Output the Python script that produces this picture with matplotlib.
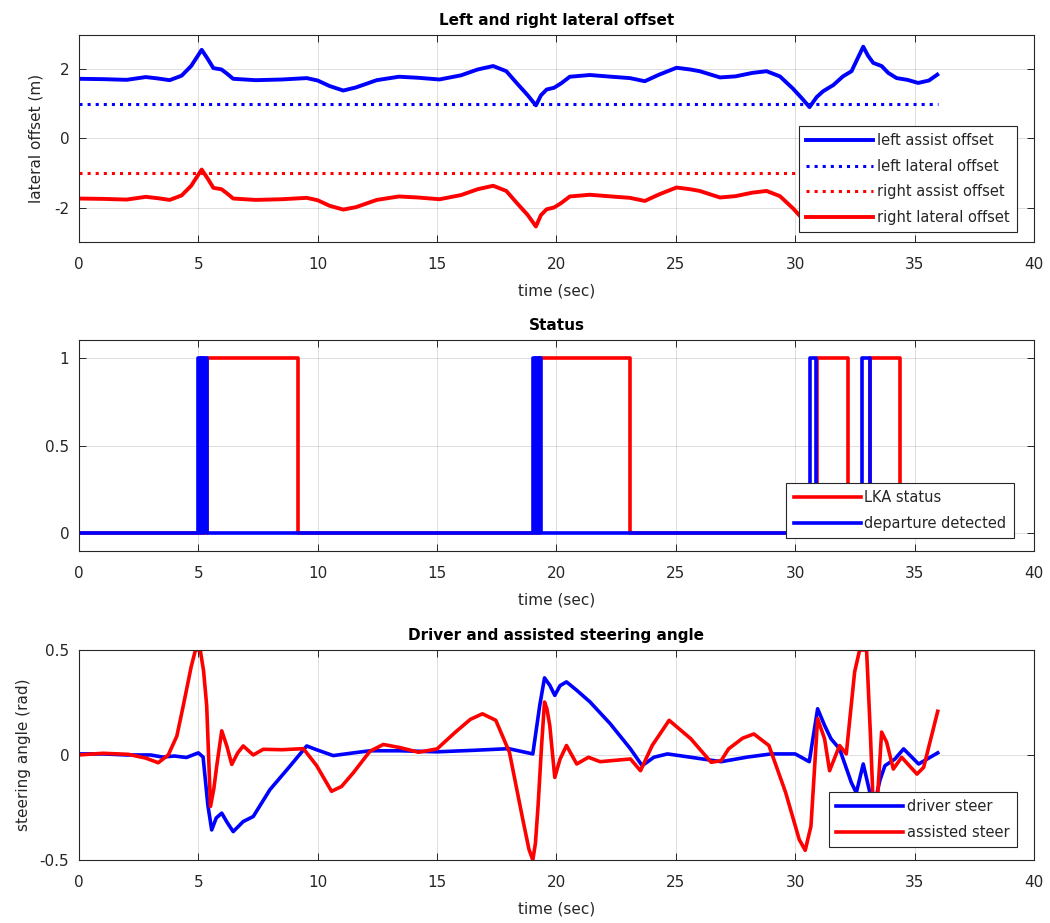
import matplotlib
matplotlib.use('Agg')
import matplotlib.pyplot as plt

plt.rcParams['font.family'] = ['DejaVu Sans']
plt.rcParams['axes.unicode_minus'] = False

# ---- Left and right lateral offset ----
t_off = [0, 1.0, 2.0, 2.8, 3.3, 3.8, 4.3, 4.7, 5.14, 5.4, 5.63, 5.97, 6.2, 6.46, 7.4,
         8.5, 9.54, 10.0, 10.5, 11.07, 11.6, 12.47, 13.4, 14.2, 15.1, 16.0, 16.7, 17.35,
         17.9, 18.33, 18.8, 19.14, 19.35, 19.59, 19.9, 20.2, 20.56, 21.4, 22.3, 23.08,
         23.7, 24.3, 25.03, 25.6, 26.0, 26.85, 27.5, 28.2, 28.8, 29.36, 29.9, 30.3, 30.6,
         30.9, 31.17, 31.6, 32.0, 32.36, 32.6, 32.85, 33.05, 33.27, 33.62, 33.9, 34.25,
         34.7, 35.15, 35.6, 35.95]
left_assist = [1.73, 1.72, 1.70, 1.78, 1.74, 1.69, 1.82, 2.10, 2.57, 2.30, 2.04, 2.00,
               1.88, 1.73, 1.69, 1.71, 1.75, 1.68, 1.52, 1.39, 1.48, 1.69, 1.79, 1.76,
               1.71, 1.83, 2.00, 2.10, 1.95, 1.61, 1.25, 0.96, 1.25, 1.42, 1.47, 1.60,
               1.79, 1.84, 1.79, 1.75, 1.66, 1.85, 2.05, 2.00, 1.95, 1.77, 1.80, 1.90,
               1.95, 1.80, 1.45, 1.15, 0.91, 1.20, 1.37, 1.55, 1.80, 1.95, 2.30, 2.66,
               2.40, 2.19, 2.10, 1.90, 1.75, 1.70, 1.61, 1.68, 1.85]
right_lateral = [-1.74, -1.75, -1.77, -1.69, -1.73, -1.78, -1.65, -1.37, -0.90, -1.17,
                 -1.43, -1.47, -1.59, -1.74, -1.78, -1.76, -1.72, -1.79, -1.95, -2.06,
                 -1.99, -1.78, -1.68, -1.71, -1.76, -1.64, -1.47, -1.37, -1.52, -1.86,
                 -2.22, -2.55, -2.22, -2.05, -2.00, -1.87, -1.68, -1.63, -1.68, -1.72,
                 -1.81, -1.62, -1.42, -1.47, -1.52, -1.71, -1.67, -1.57, -1.52, -1.67,
                 -2.02, -2.32, -2.60, -2.27, -2.10, -1.92, -1.67, -1.52, -1.17, -0.81,
                 -1.07, -1.28, -1.37, -1.57, -1.72, -1.77, -1.86, -1.79, -1.62]
t_line = [0, 36]
left_lateral = [1.0, 1.0]
right_assist = [-1.0, -1.0]

# ---- Status (switch times in sec) ----
lka_on = [5.35, 19.32, 30.92, 33.14]
lka_off = [9.19, 23.08, 32.22, 34.39]
dep_on = [5.00, 5.12, 5.24, 19.03, 19.15, 19.26, 30.62, 32.78]
dep_off = [5.08, 5.20, 5.37, 19.11, 19.22, 19.34, 30.88, 33.13]
t_end = 36

# ---- Driver and assisted steering angle ----
t_assist = [0, 1.0, 2.07, 2.8, 3.32, 3.74, 4.1, 4.37, 4.7, 4.88, 5.08, 5.22, 5.35, 5.51,
            5.65, 5.77, 5.98, 6.2, 6.4, 6.65, 6.88, 7.3, 7.72, 8.5, 9.4, 9.95, 10.58,
            11.0, 11.49, 12.19, 12.75, 13.45, 14.23, 15.0, 15.77, 16.4, 16.9, 17.46,
            18.03, 18.59, 18.85, 19.01, 19.12, 19.23, 19.38, 19.5, 19.6, 19.72, 19.93,
            20.15, 20.42, 20.85, 21.34, 21.83, 23.1, 23.52, 24.01, 24.72, 25.63, 26.48,
            26.9, 27.21, 27.8, 28.27, 28.9, 29.6, 30.17, 30.42, 30.66, 30.94, 31.23,
            31.44, 31.86, 32.14, 32.49, 32.7, 32.99, 33.15, 33.3, 33.45, 33.62, 33.83,
            34.11, 34.46, 35.1, 35.38, 35.97]
assisted_steer = [0, 0.008, 0.003, -0.015, -0.037, 0.0, 0.09, 0.235, 0.42, 0.5, 0.5, 0.40,
                  0.235, -0.245, -0.16, -0.053, 0.115, 0.04, -0.045, 0.01, 0.043, 0.0,
                  0.027, 0.025, 0.03, -0.05, -0.173, -0.15, -0.085, 0.018, 0.05, 0.035,
                  0.013, 0.029, 0.109, 0.17, 0.196, 0.165, 0.013, -0.307, -0.45, -0.5,
                  -0.42, -0.243, 0.05, 0.252, 0.22, 0.141, -0.107, -0.02, 0.045, -0.043,
                  -0.011, -0.032, -0.019, -0.075, 0.045, 0.165, 0.077, -0.035, -0.027,
                  0.029, 0.08, 0.1, 0.045, -0.179, -0.403, -0.454, -0.339, 0.173, 0.077,
                  -0.075, 0.045, 0.005, 0.396, 0.5, 0.5, 0.1, -0.33, -0.2, 0.109, 0.061,
                  -0.067, -0.011, -0.091, -0.059, 0.208]
t_driver = [0, 1.0, 2.0, 3.0, 3.5, 4.0, 4.5, 5.0, 5.2, 5.4, 5.56, 5.75, 5.98, 6.2, 6.46,
            6.88, 7.3, 8.0, 8.84, 9.54, 9.95, 10.65, 11.5, 12.2, 13.45, 15.0, 16.5, 18.0,
            19.01, 19.3, 19.5, 19.72, 19.93, 20.15, 20.42, 20.85, 21.41, 22.25, 23.1,
            23.59, 24.08, 24.65, 25.63, 26.9, 28.0, 29.0, 30.0, 30.59, 30.94, 31.23, 31.5,
            31.86, 32.35, 32.56, 32.85, 33.13, 33.35, 33.55, 33.76, 34.18, 34.54, 35.17,
            35.97]
driver_steer = [0.005, 0.005, 0.0, 0.0, -0.01, -0.005, -0.012, 0.01, -0.01, -0.24, -0.357,
                -0.30, -0.277, -0.32, -0.365, -0.317, -0.293, -0.165, -0.053, 0.043, 0.025,
                -0.003, 0.01, 0.02, 0.02, 0.015, 0.022, 0.03, 0.005, 0.236, 0.367, 0.332,
                0.284, 0.33, 0.348, 0.308, 0.252, 0.149, 0.029, -0.051, -0.011, 0.005,
                -0.011, -0.032, -0.01, 0.005, 0.005, -0.032, 0.22, 0.141, 0.077, 0.029,
                -0.131, -0.18, -0.043, -0.18, -0.22, -0.12, -0.051, -0.019, 0.029, -0.043,
                0.01]

BLUE = (0, 0, 1)
RED = (1, 0, 0)
DARK = '0.15'
FS = 11


def steps(on, off, end):
    # turn switch times into a 0/1 step trace
    xs, ys = [0], [0]
    for a, b in zip(on, off):
        xs += [a, a, b, b]
        ys += [0, 1, 1, 0]
    xs.append(end)
    ys.append(0)
    return xs, ys


def matlab_axes(ax, title):
    ax.set_xlim(0, 40)
    ax.set_xticks(range(0, 41, 5))
    ax.grid(True, color=DARK, alpha=0.15, linewidth=0.7)
    ax.set_axisbelow(True)
    ax.tick_params(direction='in', top=True, right=True, length=5, width=0.7,
                   colors=DARK, labelsize=FS)
    ax.tick_params(axis='x', pad=11)
    ax.tick_params(axis='y', pad=7)
    for s in ax.spines.values():
        s.set_color(DARK)
        s.set_linewidth(0.8)
    ax.set_xlabel('time (sec)', fontsize=FS, color=DARK, labelpad=8)
    ax.set_title(title, fontsize=FS, fontweight='bold', pad=7)


def matlab_legend(ax, anchor):
    leg = ax.legend(loc='lower right', bbox_to_anchor=anchor, borderaxespad=0,
                    fontsize=10.5, fancybox=False, framealpha=1, edgecolor=DARK,
                    handlelength=4.6, handletextpad=0.25, labelspacing=0.72,
                    borderpad=0.5)
    leg.get_frame().set_linewidth(0.8)
    for txt in leg.get_texts():
        txt.set_color(DARK)


fig = plt.figure(figsize=(10.5, 9.23), dpi=100)
ax1 = fig.add_axes([0.0752, 0.7378, 0.9095, 0.2243])
ax2 = fig.add_axes([0.0752, 0.4030, 0.9095, 0.2286])
ax3 = fig.add_axes([0.0752, 0.0683, 0.9095, 0.2275])

# top
ax1.plot(t_off, left_assist, color=BLUE, lw=2.8, label='left assist offset')
ax1.plot(t_line, left_lateral, color=BLUE, lw=2.2, ls=':', label='left lateral offset')
ax1.plot(t_line, right_assist, color=RED, lw=2.2, ls=':', label='right assist offset')
ax1.plot(t_off, right_lateral, color=RED, lw=2.8, label='right lateral offset')
matlab_axes(ax1, 'Left and right lateral offset')
ax1.set_ylim(-3, 3)
ax1.set_yticks([-2, 0, 2])
ax1.set_ylabel('lateral offset (m)', fontsize=FS, color=DARK, labelpad=8)
matlab_legend(ax1, (0.982, 0.048))

# middle
lx, ly = steps(lka_on, lka_off, t_end)
dx, dy = steps(dep_on, dep_off, t_end)
ax2.plot(lx, ly, color=RED, lw=2.6, solid_joinstyle='round', label='LKA status')
ax2.plot(dx, dy, color=BLUE, lw=2.6, solid_joinstyle='round', label='departure detected')
matlab_axes(ax2, 'Status')
ax2.set_ylim(-0.1, 1.1)
ax2.set_yticks([0, 0.5, 1])
ax2.set_yticklabels(['0', '0.5', '1'])
matlab_legend(ax2, (0.979, 0.062))

# bottom
ax3.plot(t_driver, driver_steer, color=BLUE, lw=2.6, label='driver steer')
ax3.plot(t_assist, assisted_steer, color=RED, lw=2.6, label='assisted steer')
matlab_axes(ax3, 'Driver and assisted steering angle')
ax3.set_ylim(-0.5, 0.5)
ax3.set_yticks([-0.5, 0, 0.5])
ax3.set_yticklabels(['-0.5', '0', '0.5'])
ax3.set_ylabel('steering angle (rad)', fontsize=FS, color=DARK, labelpad=6)
matlab_legend(ax3, (0.982, 0.062))

fig.savefig('out.png', dpi=100)
plt.close(fig)
